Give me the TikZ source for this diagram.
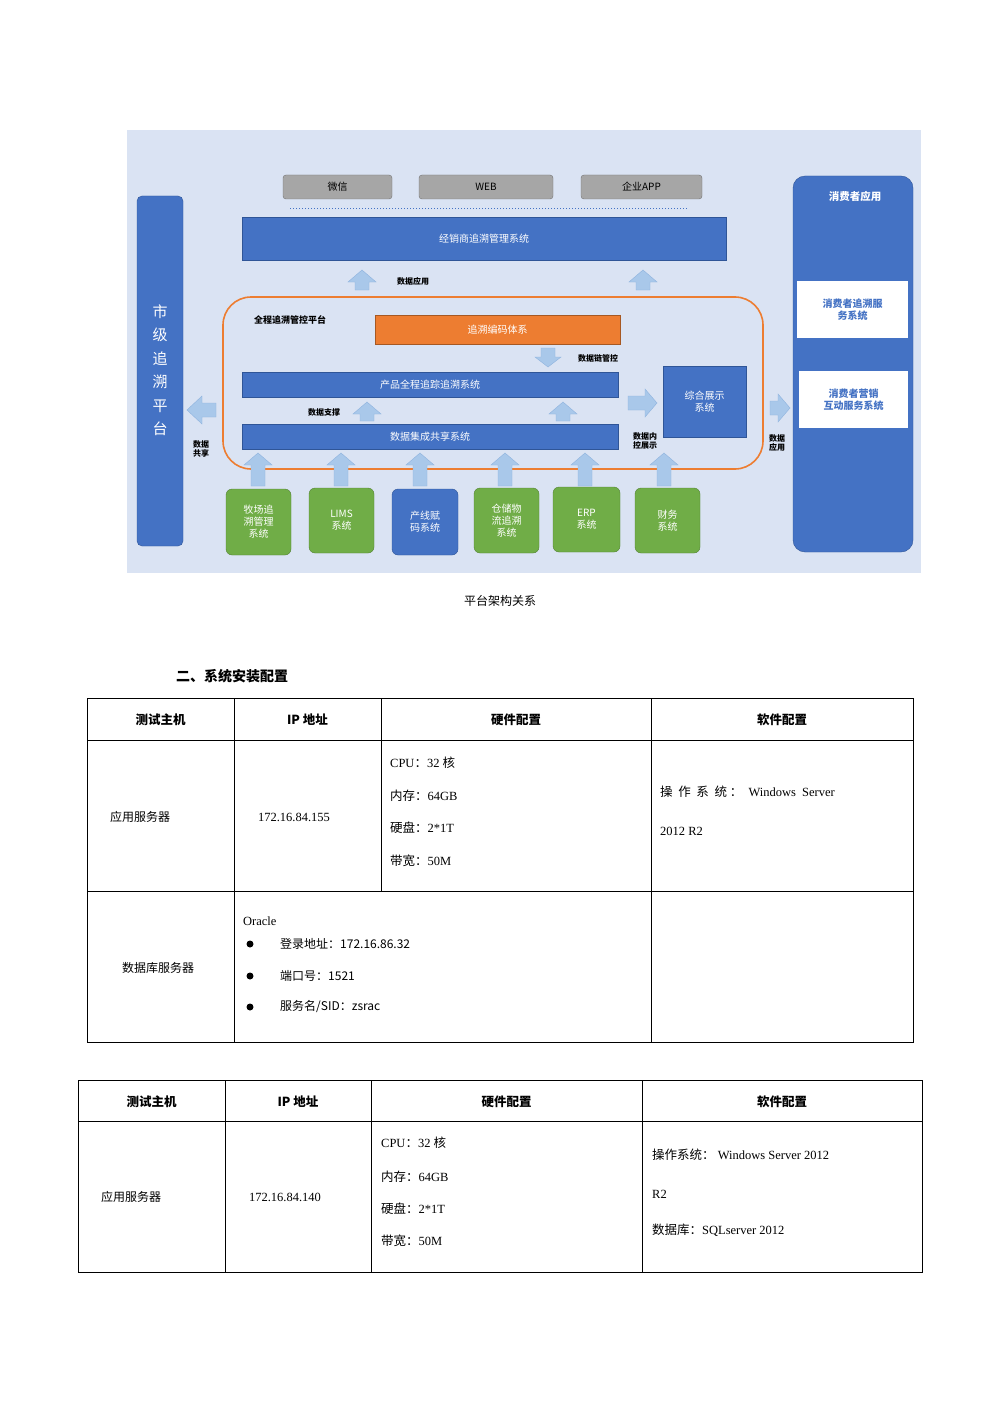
\documentclass[tikz,border=0pt]{standalone}
\usepackage{fontspec}
\setmainfont{Liberation Serif}
\newfontfamily\cjk{Noto Sans CJK SC}
\usetikzlibrary{calc}
\definecolor{bgc}{HTML}{DAE3F3}
\definecolor{bl}{HTML}{4472C4}
\definecolor{blb}{HTML}{2F5597}
\definecolor{org}{HTML}{ED7D31}
\definecolor{grn}{HTML}{70AD47}
\definecolor{grnb}{HTML}{548235}
\definecolor{gry}{HTML}{A6A6A6}
\definecolor{arr}{HTML}{A9C8EA}
\definecolor{arrb}{HTML}{8FB3DE}
\newcommand\blkup[3]{\filldraw[fill=arr,draw=arrb] (#1-7,#3)--(#1-7,#2+12)--(#1-14,#2+12)--(#1,#2)--(#1+14,#2+12)--(#1+7,#2+12)--(#1+7,#3)--cycle;}
\newcommand\blkdn[3]{\filldraw[fill=arr,draw=arrb] (#1-7,#2)--(#1-7,#3-10)--(#1-13,#3-10)--(#1,#3)--(#1+13,#3-10)--(#1+7,#3-10)--(#1+7,#2)--cycle;}
\newcommand\blkrt[3]{\filldraw[fill=arr,draw=arrb] (#2,#1-7)--(#3-12,#1-7)--(#3-12,#1-14)--(#3,#1)--(#3-12,#1+14)--(#3-12,#1+7)--(#2,#1+7)--cycle;}
\tikzset{
 bbox/.style={draw=blb,fill=bl,text=white,font=\cjk\fontsize{10}{12}\selectfont,inner sep=0pt},
 gbox/.style={draw=gry!70!black,fill=gry,rounded corners=3pt,font=\cjk\fontsize{10}{12}\selectfont,inner sep=0pt},
 green/.style={draw=grnb,fill=grn,text=white,rounded corners=6pt,font=\cjk\fontsize{10}{12}\selectfont,align=center,inner sep=0pt},
 lab/.style={font=\cjk\bfseries\fontsize{8}{9}\selectfont,align=left,inner sep=0pt},
 wbox/.style={fill=white,text=bl,font=\cjk\bfseries\fontsize{10}{12}\selectfont,align=center,inner sep=0pt},
 tl/.style={line width=0.8pt},
 th/.style={font=\cjk\bfseries\fontsize{12.5}{14}\selectfont,inner sep=0pt},
 tc/.style={font=\cjk\fontsize{12}{14}\selectfont,inner sep=0pt},
 tr/.style={font=\fontsize{12.5}{14}\selectfont,inner sep=0pt},
}
\begin{document}
\begin{tikzpicture}[x=1pt,y=-1pt]
\useasboundingbox (0,0) rectangle (1000,1415);
\fill[white] (0,0) rectangle (1000,1415);
\fill[bgc] (127,130) rectangle (921,573);
% left bar
\fill[bl,draw=blb,rounded corners=5pt] (137,196) rectangle (183,546);
\node[text=white,font=\cjk\fontsize{15}{23.5}\selectfont,align=center] (city) at (160,370) {市\\级\\追\\溯\\平\\台};
% gray boxes
\node[gbox,minimum width=109pt,minimum height=24pt] (wx) at (337.5,187) {微信};
\node[gbox,minimum width=134pt,minimum height=24pt] (web) at (486,187) {WEB};
\node[gbox,minimum width=121pt,minimum height=24pt] (app) at (641.5,187) {企业APP};
\draw[bl,dotted,line width=1pt] (290,209) -- (688,209);
\node[bbox,minimum width=484pt,minimum height=43pt] (dist) at (484,239) {经销商追溯管理系统};
\blkup{362}{270}{290}
\blkup{643}{270}{290}
\node[lab] (l1) at (413,281) {数据应用};
% orange frame
\draw[org,line width=1.6pt,rounded corners=28pt] (223,297) rectangle (763,469);
\node[lab,font=\cjk\bfseries\fontsize{9}{10}\selectfont] (plat) at (290,320) {全程追溯管控平台};
\node[draw=org!70!black,fill=org,text=white,font=\cjk\fontsize{10}{12}\selectfont,minimum width=245pt,minimum height=29pt,inner sep=0pt] (code) at (497.5,329.5) {追溯编码体系};
\blkdn{548}{348}{367}
\node[lab] (l2) at (598,358) {数据链管控};
\node[bbox,minimum width=376pt,minimum height=25pt] (prod) at (430,384.5) {产品全程追踪追溯系统};
\blkup{367}{402}{421}
\blkup{563}{402}{421}
\node[lab] (l3) at (324,412) {数据支撑};
\node[bbox,minimum width=376pt,minimum height=25pt] (integ) at (430,436.5) {数据集成共享系统};
\node[bbox,minimum width=83pt,minimum height=71pt,align=center] (show) at (704.5,401.5) {综合展示\\系统};
\blkrt{403}{628}{657}
\node[lab] (l4) at (645,441) {数据内\\控展示};
% left arrow
\filldraw[fill=arr,draw=arrb] (216,403)--(202,403)--(202,396)--(187,410)--(202,424)--(202,417)--(216,417)--cycle;
\node[lab] (l5) at (201,449) {数据\\共享};
\blkrt{408}{770}{790}
\node[lab] (l6) at (777,443) {数据\\应用};
% consumer bar
\fill[bl,draw=blb,rounded corners=12pt] (793,176) rectangle (913,552);
\node[text=white,font=\cjk\bfseries\fontsize{10.5}{12}\selectfont] (cons) at (855,196) {消费者应用};
\node[wbox,minimum width=111pt,minimum height=57pt] (c1) at (852.5,309.5) {消费者追溯服\\务系统};
\node[wbox,minimum width=109pt,minimum height=57pt] (c2) at (853.5,399.5) {消费者营销\\互动服务系统};
% up arrows from sources
\foreach \x in {258,341,420,505,585,664}{\blkup{\x}{453}{486}}
\node[green,minimum width=65pt,minimum height=66pt] (s1) at (258.5,522) {牧场追\\溯管理\\系统};
\node[green,minimum width=65pt,minimum height=65pt] (s2) at (341.5,520.5) {LIMS\\系统};
\node[draw=blb,fill=bl,text=white,rounded corners=6pt,font=\cjk\fontsize{10}{12}\selectfont,align=center,inner sep=0pt,minimum width=66pt,minimum height=66pt] (s3) at (425,522) {产线赋\\码系统};
\node[green,minimum width=65pt,minimum height=65pt] (s4) at (506.5,520.5) {仓储物\\流追溯\\系统};
\node[green,minimum width=67pt,minimum height=65pt] (s5) at (586.5,519.5) {ERP\\系统};
\node[green,minimum width=65pt,minimum height=65pt] (s6) at (667.5,520.5) {财务\\系统};
% caption
\node[font=\cjk\fontsize{12}{14}\selectfont] (cap) at (500,601) {平台架构关系};
\node[font=\cjk\bfseries\fontsize{14}{16}\selectfont] (h2) at (232,676) {二、系统安装配置};
% table 1
\draw[tl] (87,698) rectangle (913,1042);
\draw[tl] (87,740)--(913,740) (87,891)--(913,891);
\draw[tl] (234,698)--(234,1042) (381,698)--(381,891) (651,698)--(651,1042);
\node[th] (t1a) at (160.5,720) {测试主机};
\node[th] (t1b) at (307.5,720) {\bfseries IP {\cjk 地址}};
\node[th] (t1c) at (516,720) {硬件配置};
\node[th] (t1d) at (782,720) {软件配置};
\node[tc] (t1e) at (140,817) {应用服务器};
\node[tr] (t1f) at (294,817) {172.16.84.155};
\node[tr,anchor=west] (t1g) at (390,763) {CPU{\cjk ：}32 {\cjk 核}};
\node[tr,anchor=west] (t1h) at (390,796) {{\cjk 内存：}64GB};
\node[tr,anchor=west] (t1i) at (390,828) {{\cjk 硬盘：}2*1T};
\node[tr,anchor=west] (t1j) at (390,861) {{\cjk 带宽：}50M};
\node[tr,anchor=west] (t1k) at (660,792) {{\cjk 操\ \ 作\ \ 系\ \ 统\ ：}\ \ Windows\ \ Server};
\node[tr,anchor=west] (t1l) at (660,831) {2012 R2};
\node[tc] (t1m) at (158,968) {数据库服务器};
\node[tr,anchor=west] (t1n) at (243,921) {Oracle};
\foreach \yy/\tx [count=\i] in {944/{登录地址：172.16.86.32},976/{端口号：1521},1007/{服务名/SID：zsrac}}{
  \fill (250,\yy) circle (3.5pt);
  \node[tc,anchor=west] (b\i) at (280,\yy) {\tx};
}
% table 2
\draw[tl] (78,1080) rectangle (922,1272);
\draw[tl] (78,1121)--(922,1121);
\draw[tl] (225,1080)--(225,1272) (371,1080)--(371,1272) (642,1080)--(642,1272);
\node[th] (t2a) at (151.5,1102) {测试主机};
\node[th] (t2b) at (298,1102) {\bfseries IP {\cjk 地址}};
\node[th] (t2c) at (506.5,1102) {硬件配置};
\node[th] (t2d) at (782,1102) {软件配置};
\node[tc] (t2e) at (131,1197) {应用服务器};
\node[tr] (t2f) at (285,1197) {172.16.84.140};
\node[tr,anchor=west] (t2g) at (381,1143) {CPU{\cjk ：}32 {\cjk 核}};
\node[tr,anchor=west] (t2h) at (381,1177) {{\cjk 内存：}64GB};
\node[tr,anchor=west] (t2i) at (381,1209) {{\cjk 硬盘：}2*1T};
\node[tr,anchor=west] (t2j) at (381,1241) {{\cjk 带宽：}50M};
\node[tr,anchor=west] (t2k) at (652,1155) {{\cjk 操作系统：}\ Windows Server 2012};
\node[tr,anchor=west] (t2l) at (652,1194) {R2};
\node[tr,anchor=west] (t2m) at (652,1230) {{\cjk 数据库：}SQLserver 2012};
\end{tikzpicture}
\end{document}
